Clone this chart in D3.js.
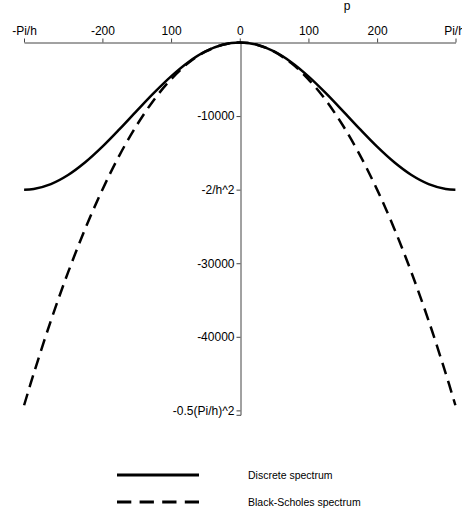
<!DOCTYPE html>
<html>
<head>
<meta charset="utf-8">
<script src="https://cdn.jsdelivr.net/npm/d3@7"></script>
<style>
body { margin:0; background:#fff; }
svg { font-family: "Liberation Sans", Arial, sans-serif; }
</style>
</head>
<body>
<div id="chart"></div>
<script>
// values (h = 0.01, Pi/h ~ 314)
var pValues = [-314,-300,-275,-250,-225,-200,-175,-150,-125,-100,-75,-50,-25,0,25,50,75,100,125,150,175,200,225,250,275,300,314];
var discrete = [-20000,-19900,-19240,-18010,-16280,-14160,-11780,-9290,-6850,-4600,-2680,-1220,-310,0,-310,-1220,-2680,-4600,-6850,-9290,-11780,-14160,-16280,-18010,-19240,-19900,-20000];
var blackScholes = [-49300,-45000,-37800,-31250,-25300,-20000,-15300,-11250,-7800,-5000,-2800,-1250,-310,0,-310,-1250,-2800,-5000,-7800,-11250,-15300,-20000,-25300,-31250,-37800,-45000,-49300];

var xTickValues = [-314.16,-200,-100,0,100,200,314.16];
var xTickLabels = ["-Pi/h","-200","100","0","100","200","Pi/h"];
var yTickValues = [-10000,-20000,-30000,-40000,-50000];
var yTickLabels = ["-10000","-2/h^2","-30000","-40000","-0.5(Pi/h)^2"];

var seriesNames = ["Discrete spectrum","Black-Scholes spectrum"];

var svg = d3.select("#chart").append("svg").attr("width",462).attr("height",519);

var x = d3.scaleLinear().domain([-314.16,314.16]).range([24,455.5]);
var y = d3.scaleLinear().domain([0,-50600]).range([42.5,414.8]);

var xAxis = d3.axisTop(x).tickValues(xTickValues)
    .tickFormat(function(d,i){ return xTickLabels[i]; })
    .tickSize(4).tickSizeOuter(0).tickPadding(4);
var yAxis = d3.axisLeft(y).tickValues(yTickValues)
    .tickFormat(function(d,i){ return yTickLabels[i]; })
    .tickSize(4).tickSizeOuter(4).tickPadding(2);

var gx = svg.append("g").attr("transform","translate(0," + 42.5 + ")").call(xAxis);
var gy = svg.append("g").attr("transform","translate(" + (Math.round(x(0)) + 0.5) + ",0)").call(yAxis);

[gx,gy].forEach(function(g){
    g.selectAll("path,line").attr("stroke","#444");
    g.selectAll("text").attr("fill","#000").style("font-size","12px").style("font-family","Liberation Sans, Arial, sans-serif");
});
// last label sits a bit left of its tick, cut by the edge like the original
gx.selectAll(".tick text").filter(function(d,i){ return i == xTickValues.length-1; }).attr("dx",-1.5);

svg.append("text").attr("x",347).attr("y",10).attr("text-anchor","middle")
    .style("font-size","12px").text("p");

var line = d3.line().curve(d3.curveCatmullRom)
    .x(function(d){ return x(d[0]); })
    .y(function(d){ return y(d[1]); });

svg.append("path").datum(d3.zip(pValues,discrete))
    .attr("d",line).attr("fill","none").attr("stroke","#000").attr("stroke-width",2.5);

svg.append("path").datum(d3.zip(pValues,blackScholes))
    .attr("d",line).attr("fill","none").attr("stroke","#000").attr("stroke-width",2.5)
    .attr("stroke-dasharray","12,7");

// legend
var legend = svg.append("g");
seriesNames.forEach(function(name,i){
    var ly = 475 + i*27;
    legend.append("line").attr("x1",117).attr("x2",199).attr("y1",ly).attr("y2",ly)
        .attr("stroke","#000").attr("stroke-width",3)
        .attr("stroke-dasharray", i == 1 ? "14.3,8.3" : null);
    legend.append("text").attr("x",248).attr("y",ly).attr("dy","0.35em")
        .style("font-size","10.5px").text(name);
});
</script>
</body>
</html>
